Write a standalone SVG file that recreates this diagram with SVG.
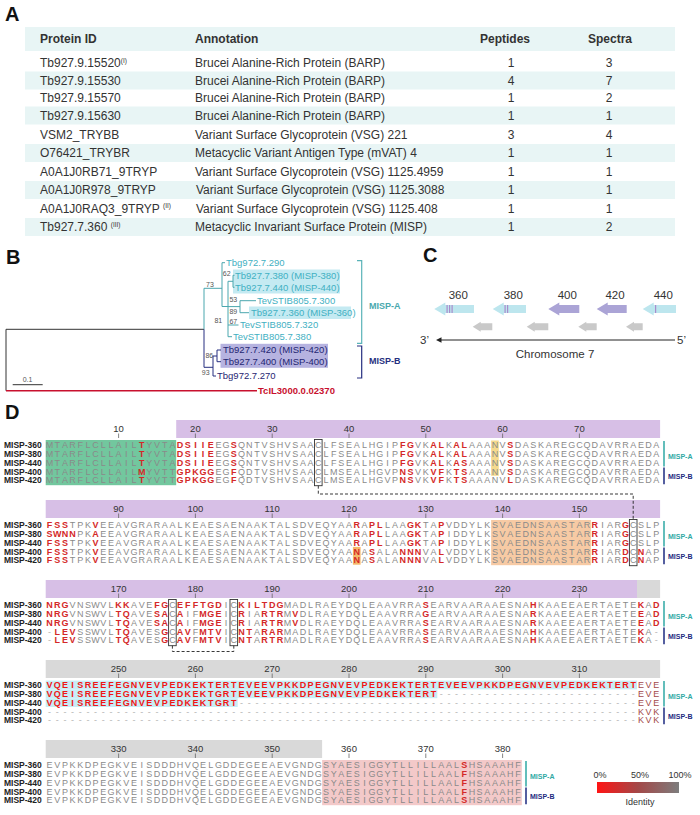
<svg xmlns="http://www.w3.org/2000/svg" width="700" height="815" viewBox="0 0 700 815">
<defs>
<linearGradient id="idg" x1="0" x2="1" y1="0" y2="0">
<stop offset="0" stop-color="#ff1414"/><stop offset="0.5" stop-color="#a34848"/><stop offset="1" stop-color="#7d7d7d"/>
</linearGradient>
</defs>
<style>
text{font-family:"Liberation Sans",Arial,sans-serif}
.pl{font-size:20px;font-weight:bold;fill:#111}
.th{font-size:12px;font-weight:bold;fill:#333}
.td{font-size:12px;fill:#333}
.c{text-anchor:middle}
.band{fill:#e8f5f5}
.lf{font-size:9.5px}
.ta{fill:#3fb0c2}
.nb{fill:#1f2672}
.bs{font-size:7px;fill:#555;text-anchor:middle}
.ea{stroke:#4aa7ae;stroke-width:1;fill:none}
.eb{stroke:#262f80;stroke-width:1;fill:none}
.ek{stroke:#333;stroke-width:1;fill:none}
.s{font-size:9px;fill:#8a8a8a;text-anchor:middle}
.r{fill:#d42828;font-weight:bold}
.R{fill:#f01616;font-weight:bold}
.d{fill:#a34a4a}
.q{fill:#b4b4b4}
.nm{font-size:8.5px;font-weight:bold;fill:#222}
.ru{font-size:9.5px;fill:#333;text-anchor:middle}
.tk{stroke:#666;stroke-width:0.8;fill:none}
.pu{fill:#d7bfe6}
.gy{fill:#d9d9d9}
.bx{fill:none;stroke:#333;stroke-width:0.9}
.ds{fill:none;stroke:#222;stroke-width:0.9;stroke-dasharray:3 2}
.la{stroke:#2fa9a4;stroke-width:1.5}
.lb{stroke:#1d2a80;stroke-width:1.5}
.ma{font-size:7px;font-weight:bold;fill:#2fa9a4}
.mb{font-size:7px;font-weight:bold;fill:#1d2a80}
.gb{fill:#bde6ee}
.gl{fill:#aba4d6}
.gg{fill:#c9c9c9}
.st{fill:#a88ccc}
.cx{font-size:11.5px;fill:#333}
.sp{font-size:6.5px}
</style>

<g id="panelA">
<text class="pl" x="5" y="21">A</text>
<rect class="band" x="25" y="27" width="650" height="24"/>
<rect class="band" x="25" y="71.5" width="650" height="18"/>
<rect class="band" x="25" y="106.5" width="650" height="18"/>
<rect class="band" x="25" y="144" width="650" height="18"/>
<rect class="band" x="25" y="181" width="650" height="18"/>
<rect class="band" x="25" y="218" width="650" height="18"/>
<text class="th" x="40" y="43">Protein ID</text>
<text class="th" x="195" y="43">Annotation</text>
<text class="th c" x="505" y="43">Peptides</text>
<text class="th c" x="610" y="43">Spectra</text>
<g id="row1"><text class="td" x="40" y="67">Tb927.9.15520<tspan class="sp" dy="-4.5">(I)</tspan></text><text class="td" x="195" y="67">Brucei Alanine-Rich Protein (BARP)</text><text class="td c" x="511" y="67">1</text><text class="td c" x="609" y="67">3</text></g>
<g id="row2"><text class="td" x="40" y="84.5">Tb927.9.15530</text><text class="td" x="195" y="84.5">Brucei Alanine-Rich Protein (BARP)</text><text class="td c" x="511" y="84.5">4</text><text class="td c" x="609" y="84.5">7</text></g>
<g id="row3"><text class="td" x="40" y="102">Tb927.9.15570</text><text class="td" x="195" y="102">Brucei Alanine-Rich Protein (BARP)</text><text class="td c" x="511" y="102">1</text><text class="td c" x="609" y="102">2</text></g>
<g id="row4"><text class="td" x="40" y="119.5">Tb927.9.15630</text><text class="td" x="195" y="119.5">Brucei Alanine-Rich Protein (BARP)</text><text class="td c" x="511" y="119.5">1</text><text class="td c" x="609" y="119.5">1</text></g>
<g id="row5"><text class="td" x="40" y="138.5">VSM2_TRYBB</text><text class="td" x="195" y="138.5">Variant Surface Glycoprotein (VSG) 221</text><text class="td c" x="511" y="138.5">3</text><text class="td c" x="609" y="138.5">4</text></g>
<g id="row6"><text class="td" x="40" y="157">O76421_TRYBR</text><text class="td" x="195" y="157">Metacyclic Variant Antigen Type (mVAT) 4</text><text class="td c" x="511" y="157">1</text><text class="td c" x="609" y="157">1</text></g>
<g id="row7"><text class="td" x="40" y="175.5">A0A1J0RB71_9TRYP</text><text class="td" x="195" y="175.5">Variant Surface Glycoprotein (VSG) 1125.4959</text><text class="td c" x="511" y="175.5">1</text><text class="td c" x="609" y="175.5">1</text></g>
<g id="row8"><text class="td" x="40" y="194">A0A1J0R978_9TRYP</text><text class="td" x="196" y="194">Variant Surface Glycoprotein (VSG) 1125.3088</text><text class="td c" x="511" y="194">1</text><text class="td c" x="609" y="194">1</text></g>
<g id="row9"><text class="td" x="40" y="212.5">A0A1J0RAQ3_9TRYP <tspan class="sp" dy="-4.5">(II)</tspan></text><text class="td" x="196" y="212.5">Variant Surface Glycoprotein (VSG) 1125.408</text><text class="td c" x="511" y="212.5">1</text><text class="td c" x="609" y="212.5">1</text></g>
<g id="row10"><text class="td" x="40" y="231">Tb927.7.360 <tspan class="sp" dy="-4.5">(III)</tspan></text><text class="td" x="195" y="231">Metacyclic Invariant Surface Protein (MISP)</text><text class="td c" x="511" y="231">1</text><text class="td c" x="609" y="231">2</text></g>
</g>

<g id="panelB">
<text class="pl" x="6" y="264">B</text>
<rect x="233" y="269.5" width="107" height="24" fill="#c4eaf2"/>
<rect x="249" y="306.5" width="102" height="12.5" fill="#c4eaf2"/>
<rect x="220.5" y="343.8" width="107.5" height="24" fill="#b6b3e0"/>
<g id="connectors">
<path class="ek" d="M6,329.3 V390.7 M6,329.3 H204"/>
<path d="M6,390.7 H257" stroke="#c8102e" stroke-width="1.6" fill="none"/>
<path class="ea" d="M204,329.3 V288.3 H222 M222,262.7 V306.5 M222,262.7 H225 M222,306.5 H228 M228,281.3 V336.7 M228,281.3 H233 M233,275.3 V287.3 M233,275.3 H234.5 M233,287.3 H234.5 M228,306.6 H240 M240,300.7 V312.7 M240,300.7 H256 M240,312.7 H249 M228,325 H238.5 M228,336.7 H232"/>
<path class="eb" d="M204,329.3 V367.3 H213 M213,356 V376 M213,356 H217 M217,350 V361.7 M217,350 H221 M217,361.7 H221 M213,376 H216"/>
<path class="ek" d="M12.7,384.7 H42.7"/>
</g>
<text class="bs" x="27.5" y="382">0.1</text>
<text class="bs" x="210" y="286.5">73</text>
<text class="bs" x="226.7" y="275.8">62</text>
<text class="bs" x="233.3" y="301.8">53</text>
<text class="bs" x="233.3" y="314.2">89</text>
<text class="bs" x="218.3" y="322.5">81</text>
<text class="bs" x="233.3" y="324.2">67</text>
<text class="bs" x="209.3" y="357.5">86</text>
<text class="bs" x="205.7" y="375.2">93</text>
<g id="leaf-tbg290"><text class="lf ta" x="226" y="266.1">Tbg972.7.290</text></g>
<g id="leaf-380"><text class="lf ta" x="235" y="278.7">Tb927.7.380 (MISP-380)</text></g>
<g id="leaf-440"><text class="lf ta" x="235" y="290.7">Tb927.7.440 (MISP-440)</text></g>
<g id="leaf-tev300"><text class="lf ta" x="257" y="304.1">TevSTIB805.7.300</text></g>
<g id="leaf-360"><text class="lf ta" x="251" y="316.1">Tb927.7.360 (MISP-360)</text></g>
<g id="leaf-tev320"><text class="lf ta" x="240" y="328.4">TevSTIB805.7.320</text></g>
<g id="leaf-tev380"><text class="lf ta" x="233" y="340.1">TevSTIB805.7.380</text></g>
<g id="leaf-420"><text class="lf nb" x="223" y="353.4">Tb927.7.420 (MISP-420)</text></g>
<g id="leaf-400"><text class="lf nb" x="223" y="365.1">Tb927.7.400 (MISP-400)</text></g>
<g id="leaf-tbg270"><text class="lf nb" x="217" y="379.4">Tbg972.7.270</text></g>
<g id="leaf-tcil"><text x="258" y="394" font-size="9.5" font-weight="bold" fill="#c8102e">TcIL3000.0.02370</text></g>
<path d="M357,260.7 H361.7 V343.3 H357" stroke="#5ab3b8" stroke-width="1.2" fill="none"/>
<path d="M357,346 H361.7 V378 H357" stroke="#262f80" stroke-width="1.2" fill="none"/>
<text x="369" y="309" font-size="9" font-weight="bold" fill="#4aa8ae">MISP-A</text>
<text x="369" y="364" font-size="9" font-weight="bold" fill="#262f80">MISP-B</text>
</g>

<g id="panelC">
<text class="pl" x="423" y="262">C</text>
<text class="cx c" x="458.3" y="299">360</text>
<text class="cx c" x="513.3" y="299">380</text>
<text class="cx c" x="567.3" y="299">400</text>
<text class="cx c" x="615" y="299">420</text>
<text class="cx c" x="663.3" y="299">440</text>
<g id="gene360"><path class="gb" d="M434.3,309 L445.3,302.5 L445.3,305 L474,305 L474,313 L445.3,313 L445.3,315.5 Z"/><rect class="st" x="446.5" y="305" width="1.2" height="8"/><rect class="st" x="449" y="305" width="1.2" height="8"/><rect class="st" x="451.5" y="305" width="1.2" height="8"/></g>
<g id="gene380"><path class="gb" d="M492.7,309 L503.7,302.5 L503.7,305 L526,305 L526,313 L503.7,313 L503.7,315.5 Z"/><rect class="st" x="504.5" y="305" width="1.2" height="8"/><rect class="st" x="507" y="305" width="1.2" height="8"/></g>
<g id="gene400"><path class="gl" d="M548.3,309 L559.3,302.5 L559.3,305 L579.3,305 L579.3,313 L559.3,313 L559.3,315.5 Z"/></g>
<g id="gene420"><path class="gl" d="M596.7,309 L607.7,302.5 L607.7,305 L626.7,305 L626.7,313 L607.7,313 L607.7,315.5 Z"/></g>
<g id="gene440"><path class="gb" d="M642.7,309 L653.7,302.5 L653.7,305 L676,305 L676,313 L653.7,313 L653.7,315.5 Z"/><rect class="st" x="655" y="305" width="1.2" height="8"/></g>
<g id="grey1"><path class="gg" d="M472.7,326.7 L480.7,321.7 L480.7,323.2 L492.3,323.2 L492.3,330.2 L480.7,330.2 L480.7,331.7 Z"/></g>
<g id="grey2"><path class="gg" d="M526.7,326.7 L534.7,321.7 L534.7,323.2 L548.3,323.2 L548.3,330.2 L534.7,330.2 L534.7,331.7 Z"/></g>
<g id="grey3"><path class="gg" d="M578.3,326.7 L586.3,321.7 L586.3,323.2 L596.7,323.2 L596.7,330.2 L586.3,330.2 L586.3,331.7 Z"/></g>
<g id="grey4"><path class="gg" d="M626,326.7 L634,321.7 L634,323.2 L642.7,323.2 L642.7,330.2 L634,330.2 L634,331.7 Z"/></g>
<path d="M675,340 H439" stroke="#222" stroke-width="1" fill="none"/>
<path d="M436,340 L441.5,337.3 L441.5,342.7 Z" fill="#222"/>
<text class="cx" x="420" y="344">3’</text>
<text class="cx" x="677" y="344">5’</text>
<text class="cx c" x="555" y="357.5">Chromosome 7</text>
</g>

<g id="panelD">
<text class="pl" x="5" y="419">D</text>
<rect class="pu" x="176.2" y="420" width="483.9" height="18"/>
<rect class="pu" x="45.7" y="500" width="614.4" height="18"/>
<rect class="pu" x="45.7" y="580" width="591.3" height="18"/>
<rect class="gy" x="637" y="580" width="23.1" height="18"/>
<rect class="gy" x="45.7" y="660" width="614.4" height="18"/>
<rect class="gy" x="45.7" y="740" width="276.4" height="18"/>
<rect x="45.7" y="440" width="130.5" height="45.2" fill="#72c79e"/>
<rect x="491.1" y="440.5" width="7.7" height="35.3" fill="#f5da8e"/>
<rect x="491.1" y="520" width="99.8" height="45.2" fill="#f7caa4"/>
<rect x="352.9" y="546.9" width="7.7" height="17.8" fill="#f5b86a"/>
<rect x="45.7" y="680.6" width="591.3" height="8.8" fill="#c8edf5"/>
<rect x="45.7" y="689.4" width="391.6" height="8.8" fill="#c8edf5"/>
<rect x="45.7" y="698.2" width="192" height="8.8" fill="#c8edf5"/>
<rect x="322.1" y="760" width="199.7" height="45.2" fill="#f3c9c9"/>
<g id="ruler1"><text class="ru" x="118.6" y="431.5">10</text><text class="ru" x="195.4" y="431.5">20</text><text class="ru" x="272.2" y="431.5">30</text><text class="ru" x="349" y="431.5">40</text><text class="ru" x="425.8" y="431.5">50</text><text class="ru" x="502.6" y="431.5">60</text><text class="ru" x="579.4" y="431.5">70</text>
<path class="tk" d="M118.6,433.5V438M195.4,433.5V438M272.2,433.5V438M349,433.5V438M425.8,433.5V438M502.6,433.5V438M579.4,433.5V438"/></g>
<g id="ruler2"><text class="ru" x="118.6" y="511.5">90</text><text class="ru" x="195.4" y="511.5">100</text><text class="ru" x="272.2" y="511.5">110</text><text class="ru" x="349" y="511.5">120</text><text class="ru" x="425.8" y="511.5">130</text><text class="ru" x="502.6" y="511.5">140</text><text class="ru" x="579.4" y="511.5">150</text>
<path class="tk" d="M118.6,513.5V518M195.4,513.5V518M272.2,513.5V518M349,513.5V518M425.8,513.5V518M502.6,513.5V518M579.4,513.5V518"/></g>
<g id="ruler3"><text class="ru" x="118.6" y="591.5">170</text><text class="ru" x="195.4" y="591.5">180</text><text class="ru" x="272.2" y="591.5">190</text><text class="ru" x="349" y="591.5">200</text><text class="ru" x="425.8" y="591.5">210</text><text class="ru" x="502.6" y="591.5">220</text><text class="ru" x="579.4" y="591.5">230</text>
<path class="tk" d="M118.6,593.5V598M195.4,593.5V598M272.2,593.5V598M349,593.5V598M425.8,593.5V598M502.6,593.5V598M579.4,593.5V598"/></g>
<g id="ruler4"><text class="ru" x="118.6" y="671.5">250</text><text class="ru" x="195.4" y="671.5">260</text><text class="ru" x="272.2" y="671.5">270</text><text class="ru" x="349" y="671.5">280</text><text class="ru" x="425.8" y="671.5">290</text><text class="ru" x="502.6" y="671.5">300</text><text class="ru" x="579.4" y="671.5">310</text>
<path class="tk" d="M118.6,673.5V678M195.4,673.5V678M272.2,673.5V678M349,673.5V678M425.8,673.5V678M502.6,673.5V678M579.4,673.5V678"/></g>
<g id="ruler5"><text class="ru" x="118.6" y="751.5">330</text><text class="ru" x="195.4" y="751.5">340</text><text class="ru" x="272.2" y="751.5">350</text><text class="ru" x="349" y="751.5">360</text><text class="ru" x="425.8" y="751.5">370</text><text class="ru" x="502.6" y="751.5">380</text>
<path class="tk" d="M118.6,753.5V758M195.4,753.5V758M272.2,753.5V758M349,753.5V758M425.8,753.5V758M502.6,753.5V758"/></g>

<g id="names">
<text class="nm" x="4" y="448.2">MISP-360</text><text class="nm" x="4" y="457">MISP-380</text><text class="nm" x="4" y="465.8">MISP-440</text><text class="nm" x="4" y="474.6">MISP-400</text><text class="nm" x="4" y="483.4">MISP-420</text>
<text class="nm" x="4" y="528.2">MISP-360</text><text class="nm" x="4" y="537">MISP-380</text><text class="nm" x="4" y="545.8">MISP-440</text><text class="nm" x="4" y="554.6">MISP-400</text><text class="nm" x="4" y="563.4">MISP-420</text>
<text class="nm" x="4" y="608.2">MISP-360</text><text class="nm" x="4" y="617">MISP-380</text><text class="nm" x="4" y="625.8">MISP-440</text><text class="nm" x="4" y="634.6">MISP-400</text><text class="nm" x="4" y="643.4">MISP-420</text>
<text class="nm" x="4" y="688.2">MISP-360</text><text class="nm" x="4" y="697">MISP-380</text><text class="nm" x="4" y="705.8">MISP-440</text><text class="nm" x="4" y="714.6">MISP-400</text><text class="nm" x="4" y="723.4">MISP-420</text>
<text class="nm" x="4" y="768.2">MISP-360</text><text class="nm" x="4" y="777">MISP-380</text><text class="nm" x="4" y="785.8">MISP-440</text><text class="nm" x="4" y="794.6">MISP-400</text><text class="nm" x="4" y="803.4">MISP-420</text>
</g>

<g id="block1">
<text class="s" y="448.2" x="49.5 57.2 64.9 72.5 80.2 87.9 95.6 103.3 110.9 118.6 126.3 134 141.7 149.3 157 164.7 172.4 180.1 187.7 195.4 203.1 210.8 218.5 226.1 233.8 241.5 249.2 256.9 264.5 272.2 279.9 287.6 295.3 302.9 310.6 318.3 326 333.7 341.3 349 356.7 364.4 372.1 379.7 387.4 395.1 402.8 410.5 418.1 425.8 433.5 441.2 448.9 456.5 464.2 471.9 479.6 487.3 494.9 502.6 510.3 518 525.7 533.3 541 548.7 556.4 564.1 571.7 579.4 587.1 594.8 602.5 610.1 617.8 625.5 633.2 640.9 648.5 656.2">MTARFLCLLAIL<tspan class="r">T</tspan>YVTA<tspan class="r">DSIIE</tspan>EG<tspan class="r">S</tspan>QNTVSHVSAACLFSEALHGIP<tspan class="r">FG</tspan>VK<tspan class="r">AL</tspan>K<tspan class="r">AL</tspan>AAANV<tspan class="r">S</tspan>DASKAREGCQDAVRRAEDA</text>
<text class="s" y="457" x="49.5 57.2 64.9 72.5 80.2 87.9 95.6 103.3 110.9 118.6 126.3 134 141.7 149.3 157 164.7 172.4 180.1 187.7 195.4 203.1 210.8 218.5 226.1 233.8 241.5 249.2 256.9 264.5 272.2 279.9 287.6 295.3 302.9 310.6 318.3 326 333.7 341.3 349 356.7 364.4 372.1 379.7 387.4 395.1 402.8 410.5 418.1 425.8 433.5 441.2 448.9 456.5 464.2 471.9 479.6 487.3 494.9 502.6 510.3 518 525.7 533.3 541 548.7 556.4 564.1 571.7 579.4 587.1 594.8 602.5 610.1 617.8 625.5 633.2 640.9 648.5 656.2">MTARFLCLLAIL<tspan class="r">T</tspan>YVTA<tspan class="r">DSIIE</tspan>EG<tspan class="r">S</tspan>QNTVSHVSAACLFSEALHGIP<tspan class="r">FG</tspan>VK<tspan class="r">AL</tspan>K<tspan class="r">AL</tspan>AAANV<tspan class="r">S</tspan>DASKAREGCQDAVRRAEDA</text>
<text class="s" y="465.8" x="49.5 57.2 64.9 72.5 80.2 87.9 95.6 103.3 110.9 118.6 126.3 134 141.7 149.3 157 164.7 172.4 180.1 187.7 195.4 203.1 210.8 218.5 226.1 233.8 241.5 249.2 256.9 264.5 272.2 279.9 287.6 295.3 302.9 310.6 318.3 326 333.7 341.3 349 356.7 364.4 372.1 379.7 387.4 395.1 402.8 410.5 418.1 425.8 433.5 441.2 448.9 456.5 464.2 471.9 479.6 487.3 494.9 502.6 510.3 518 525.7 533.3 541 548.7 556.4 564.1 571.7 579.4 587.1 594.8 602.5 610.1 617.8 625.5 633.2 640.9 648.5 656.2">MTARFLCLLAIL<tspan class="r">T</tspan>YVTA<tspan class="r">DSIIE</tspan>EG<tspan class="r">S</tspan>QNTVSHVSAACLFSEALHGIP<tspan class="r">FG</tspan>VK<tspan class="r">AL</tspan>K<tspan class="r">AS</tspan>AAANV<tspan class="r">S</tspan>DASKAREGCQDAVRRAEDA</text>
<text class="s" y="474.6" x="49.5 57.2 64.9 72.5 80.2 87.9 95.6 103.3 110.9 118.6 126.3 134 141.7 149.3 157 164.7 172.4 180.1 187.7 195.4 203.1 210.8 218.5 226.1 233.8 241.5 249.2 256.9 264.5 272.2 279.9 287.6 295.3 302.9 310.6 318.3 326 333.7 341.3 349 356.7 364.4 372.1 379.7 387.4 395.1 402.8 410.5 418.1 425.8 433.5 441.2 448.9 456.5 464.2 471.9 479.6 487.3 494.9 502.6 510.3 518 525.7 533.3 541 548.7 556.4 564.1 571.7 579.4 587.1 594.8 602.5 610.1 617.8 625.5 633.2 640.9 648.5 656.2">MTARFLCLLAIL<tspan class="r">M</tspan>YVTT<tspan class="r">GPKGG</tspan>EG<tspan class="r">F</tspan>QDTVSHVSAACLMSEALHGVP<tspan class="r">NS</tspan>VK<tspan class="r">VF</tspan>K<tspan class="r">TS</tspan>AAANV<tspan class="r">S</tspan>DASKAREGCQDAVRRAEDA</text>
<text class="s" y="483.4" x="49.5 57.2 64.9 72.5 80.2 87.9 95.6 103.3 110.9 118.6 126.3 134 141.7 149.3 157 164.7 172.4 180.1 187.7 195.4 203.1 210.8 218.5 226.1 233.8 241.5 249.2 256.9 264.5 272.2 279.9 287.6 295.3 302.9 310.6 318.3 326 333.7 341.3 349 356.7 364.4 372.1 379.7 387.4 395.1 402.8 410.5 418.1 425.8 433.5 441.2 448.9 456.5 464.2 471.9 479.6 487.3 494.9 502.6 510.3 518 525.7 533.3 541 548.7 556.4 564.1 571.7 579.4 587.1 594.8 602.5 610.1 617.8 625.5 633.2 640.9 648.5 656.2">MTARFLCLLAIL<tspan class="r">T</tspan>YVTT<tspan class="r">GPKGG</tspan>EG<tspan class="r">F</tspan>QDTVSHVSAACLMSEALHGVP<tspan class="r">NS</tspan>VK<tspan class="r">VF</tspan>K<tspan class="r">TS</tspan>AAANV<tspan class="r">L</tspan>DASKAREGCQDAVRRAEDA</text>
</g>

<g id="block2">
<text class="s" y="528.2" x="49.5 57.2 64.9 72.5 80.2 87.9 95.6 103.3 110.9 118.6 126.3 134 141.7 149.3 157 164.7 172.4 180.1 187.7 195.4 203.1 210.8 218.5 226.1 233.8 241.5 249.2 256.9 264.5 272.2 279.9 287.6 295.3 302.9 310.6 318.3 326 333.7 341.3 349 356.7 364.4 372.1 379.7 387.4 395.1 402.8 410.5 418.1 425.8 433.5 441.2 448.9 456.5 464.2 471.9 479.6 487.3 494.9 502.6 510.3 518 525.7 533.3 541 548.7 556.4 564.1 571.7 579.4 587.1 594.8 602.5 610.1 617.8 625.5 633.2 640.9 648.5 656.2"><tspan class="r">FSS</tspan>TPK<tspan class="r">V</tspan>EEAVGRARAALKEAESAENAAKTALSDVEQYAA<tspan class="r">R</tspan>A<tspan class="r">PL</tspan>LAA<tspan class="r">GK</tspan>TA<tspan class="r">P</tspan>VDDYLKSVAEDNSAASTAR<tspan class="r">R</tspan>IAR<tspan class="r">G</tspan>CSLP</text>
<text class="s" y="537" x="49.5 57.2 64.9 72.5 80.2 87.9 95.6 103.3 110.9 118.6 126.3 134 141.7 149.3 157 164.7 172.4 180.1 187.7 195.4 203.1 210.8 218.5 226.1 233.8 241.5 249.2 256.9 264.5 272.2 279.9 287.6 295.3 302.9 310.6 318.3 326 333.7 341.3 349 356.7 364.4 372.1 379.7 387.4 395.1 402.8 410.5 418.1 425.8 433.5 441.2 448.9 456.5 464.2 471.9 479.6 487.3 494.9 502.6 510.3 518 525.7 533.3 541 548.7 556.4 564.1 571.7 579.4 587.1 594.8 602.5 610.1 617.8 625.5 633.2 640.9 648.5 656.2"><tspan class="r">SWNN</tspan>PK<tspan class="r">A</tspan>EEAVGRARAALKEAESAENAAKTALSDVEQYAA<tspan class="r">R</tspan>A<tspan class="r">PL</tspan>LAA<tspan class="r">GK</tspan>TA<tspan class="r">P</tspan>IDDYLKSVAEDNSAASTAR<tspan class="r">R</tspan>IAR<tspan class="r">G</tspan>CSLP</text>
<text class="s" y="545.8" x="49.5 57.2 64.9 72.5 80.2 87.9 95.6 103.3 110.9 118.6 126.3 134 141.7 149.3 157 164.7 172.4 180.1 187.7 195.4 203.1 210.8 218.5 226.1 233.8 241.5 249.2 256.9 264.5 272.2 279.9 287.6 295.3 302.9 310.6 318.3 326 333.7 341.3 349 356.7 364.4 372.1 379.7 387.4 395.1 402.8 410.5 418.1 425.8 433.5 441.2 448.9 456.5 464.2 471.9 479.6 487.3 494.9 502.6 510.3 518 525.7 533.3 541 548.7 556.4 564.1 571.7 579.4 587.1 594.8 602.5 610.1 617.8 625.5 633.2 640.9 648.5 656.2"><tspan class="r">FSS</tspan>TPK<tspan class="r">V</tspan>EEAVGRARAALKEAESAENAAKTALSDVEQYAA<tspan class="r">R</tspan>A<tspan class="r">PL</tspan>LAA<tspan class="r">GK</tspan>TA<tspan class="r">P</tspan>IDDYLKSVAEDNSAASTAR<tspan class="r">R</tspan>IAR<tspan class="r">G</tspan>CSLP</text>
<text class="s" y="554.6" x="49.5 57.2 64.9 72.5 80.2 87.9 95.6 103.3 110.9 118.6 126.3 134 141.7 149.3 157 164.7 172.4 180.1 187.7 195.4 203.1 210.8 218.5 226.1 233.8 241.5 249.2 256.9 264.5 272.2 279.9 287.6 295.3 302.9 310.6 318.3 326 333.7 341.3 349 356.7 364.4 372.1 379.7 387.4 395.1 402.8 410.5 418.1 425.8 433.5 441.2 448.9 456.5 464.2 471.9 479.6 487.3 494.9 502.6 510.3 518 525.7 533.3 541 548.7 556.4 564.1 571.7 579.4 587.1 594.8 602.5 610.1 617.8 625.5 633.2 640.9 648.5 656.2"><tspan class="r">FSS</tspan>TPK<tspan class="r">V</tspan>EEAVGRARAALKEAESAENAAKTALSDVEQYAA<tspan class="r">N</tspan>A<tspan class="r">S</tspan>ALA<tspan class="r">NNN</tspan>VA<tspan class="r">L</tspan>VDDYLKSVAEDNSAASTAR<tspan class="r">R</tspan>IAR<tspan class="r">D</tspan>C<tspan class="r">N</tspan>AP</text>
<text class="s" y="563.4" x="49.5 57.2 64.9 72.5 80.2 87.9 95.6 103.3 110.9 118.6 126.3 134 141.7 149.3 157 164.7 172.4 180.1 187.7 195.4 203.1 210.8 218.5 226.1 233.8 241.5 249.2 256.9 264.5 272.2 279.9 287.6 295.3 302.9 310.6 318.3 326 333.7 341.3 349 356.7 364.4 372.1 379.7 387.4 395.1 402.8 410.5 418.1 425.8 433.5 441.2 448.9 456.5 464.2 471.9 479.6 487.3 494.9 502.6 510.3 518 525.7 533.3 541 548.7 556.4 564.1 571.7 579.4 587.1 594.8 602.5 610.1 617.8 625.5 633.2 640.9 648.5 656.2"><tspan class="r">FSS</tspan>TPK<tspan class="r">V</tspan>EEAVGRARAALKEAESAENAAKTALSDVEQYAA<tspan class="r">N</tspan>A<tspan class="r">S</tspan>ALA<tspan class="r">NNN</tspan>VA<tspan class="r">L</tspan>VDDYLKSVAEDNSAASTAR<tspan class="r">R</tspan>IAR<tspan class="r">D</tspan>C<tspan class="r">N</tspan>AP</text>
</g>

<g id="block3">
<text class="s" y="608.2" x="49.5 57.2 64.9 72.5 80.2 87.9 95.6 103.3 110.9 118.6 126.3 134 141.7 149.3 157 164.7 172.4 180.1 187.7 195.4 203.1 210.8 218.5 226.1 233.8 241.5 249.2 256.9 264.5 272.2 279.9 287.6 295.3 302.9 310.6 318.3 326 333.7 341.3 349 356.7 364.4 372.1 379.7 387.4 395.1 402.8 410.5 418.1 425.8 433.5 441.2 448.9 456.5 464.2 471.9 479.6 487.3 494.9 502.6 510.3 518 525.7 533.3 541 548.7 556.4 564.1 571.7 579.4 587.1 594.8 602.5 610.1 617.8 625.5 633.2 640.9 648.5 656.2"><tspan class="r">NRG</tspan>VNSWVL<tspan class="r">KK</tspan>AVE<tspan class="r">FG</tspan>C<tspan class="r">EFFTGD</tspan>IC<tspan class="r">KILTDG</tspan>MADLRAEYDQLEAAVRRA<tspan class="r">S</tspan>EARVAARAAESNA<tspan class="r">H</tspan>KAAEEAERTAETE<tspan class="r">K</tspan>A<tspan class="r">D</tspan></text>
<text class="s" y="617" x="49.5 57.2 64.9 72.5 80.2 87.9 95.6 103.3 110.9 118.6 126.3 134 141.7 149.3 157 164.7 172.4 180.1 187.7 195.4 203.1 210.8 218.5 226.1 233.8 241.5 249.2 256.9 264.5 272.2 279.9 287.6 295.3 302.9 310.6 318.3 326 333.7 341.3 349 356.7 364.4 372.1 379.7 387.4 395.1 402.8 410.5 418.1 425.8 433.5 441.2 448.9 456.5 464.2 471.9 479.6 487.3 494.9 502.6 510.3 518 525.7 533.3 541 548.7 556.4 564.1 571.7 579.4 587.1 594.8 602.5 610.1 617.8 625.5 633.2 640.9 648.5 656.2"><tspan class="r">NRG</tspan>VNSWVL<tspan class="r">TQ</tspan>AVE<tspan class="r">SA</tspan>C<tspan class="r">A</tspan>IF<tspan class="r">MGE</tspan>IC<tspan class="r">R</tspan>IA<tspan class="r">RTR</tspan>M<tspan class="r">V</tspan>DLRAEYDQLEAAVRRA<tspan class="r">G</tspan>EARVAARAAESNA<tspan class="r">R</tspan>KAAEEAERTAETE<tspan class="r">E</tspan>A<tspan class="r">D</tspan></text>
<text class="s" y="625.8" x="49.5 57.2 64.9 72.5 80.2 87.9 95.6 103.3 110.9 118.6 126.3 134 141.7 149.3 157 164.7 172.4 180.1 187.7 195.4 203.1 210.8 218.5 226.1 233.8 241.5 249.2 256.9 264.5 272.2 279.9 287.6 295.3 302.9 310.6 318.3 326 333.7 341.3 349 356.7 364.4 372.1 379.7 387.4 395.1 402.8 410.5 418.1 425.8 433.5 441.2 448.9 456.5 464.2 471.9 479.6 487.3 494.9 502.6 510.3 518 525.7 533.3 541 548.7 556.4 564.1 571.7 579.4 587.1 594.8 602.5 610.1 617.8 625.5 633.2 640.9 648.5 656.2"><tspan class="r">NRG</tspan>VNSWVL<tspan class="r">TQ</tspan>AVE<tspan class="r">SA</tspan>C<tspan class="r">A</tspan>IF<tspan class="r">MGE</tspan>IC<tspan class="r">R</tspan>IA<tspan class="r">RTR</tspan>M<tspan class="r">V</tspan>DLRAEYDQLEAAVRRA<tspan class="r">S</tspan>EARVAARAAESNA<tspan class="r">R</tspan>KAAEEAERTAETE<tspan class="r">E</tspan>A<tspan class="r">D</tspan></text>
<text class="s" y="634.6" x="49.5 57.2 64.9 72.5 80.2 87.9 95.6 103.3 110.9 118.6 126.3 134 141.7 149.3 157 164.7 172.4 180.1 187.7 195.4 203.1 210.8 218.5 226.1 233.8 241.5 249.2 256.9 264.5 272.2 279.9 287.6 295.3 302.9 310.6 318.3 326 333.7 341.3 349 356.7 364.4 372.1 379.7 387.4 395.1 402.8 410.5 418.1 425.8 433.5 441.2 448.9 456.5 464.2 471.9 479.6 487.3 494.9 502.6 510.3 518 525.7 533.3 541 548.7 556.4 564.1 571.7 579.4 587.1 594.8 602.5 610.1 617.8 625.5 633.2 640.9 648.5 656.2"><tspan class="q">-</tspan><tspan class="r">LEV</tspan>SSWVL<tspan class="r">TQ</tspan>AVES<tspan class="r">G</tspan>C<tspan class="r">AV</tspan>F<tspan class="r">MTV</tspan>IC<tspan class="r">NT</tspan>A<tspan class="r">RAR</tspan>MADLRAEYDQLEAAVRRA<tspan class="r">S</tspan>EARVAARAAESNA<tspan class="r">H</tspan>KAAEEAERTAETE<tspan class="r">K</tspan>A<tspan class="q">-</tspan></text>
<text class="s" y="643.4" x="49.5 57.2 64.9 72.5 80.2 87.9 95.6 103.3 110.9 118.6 126.3 134 141.7 149.3 157 164.7 172.4 180.1 187.7 195.4 203.1 210.8 218.5 226.1 233.8 241.5 249.2 256.9 264.5 272.2 279.9 287.6 295.3 302.9 310.6 318.3 326 333.7 341.3 349 356.7 364.4 372.1 379.7 387.4 395.1 402.8 410.5 418.1 425.8 433.5 441.2 448.9 456.5 464.2 471.9 479.6 487.3 494.9 502.6 510.3 518 525.7 533.3 541 548.7 556.4 564.1 571.7 579.4 587.1 594.8 602.5 610.1 617.8 625.5 633.2 640.9 648.5 656.2"><tspan class="q">-</tspan><tspan class="r">LEV</tspan>SSWVL<tspan class="r">TQ</tspan>AVES<tspan class="r">G</tspan>C<tspan class="r">AV</tspan>F<tspan class="r">MTV</tspan>IC<tspan class="r">NT</tspan>A<tspan class="r">RTR</tspan>MADLRAEYDQLEAAVRRA<tspan class="r">S</tspan>EARVAARAAESNA<tspan class="r">H</tspan>KAAEEAERTAETE<tspan class="r">K</tspan>A<tspan class="q">-</tspan></text>
</g>

<g id="block4">
<text class="s" y="688.2" x="49.5 57.2 64.9 72.5 80.2 87.9 95.6 103.3 110.9 118.6 126.3 134 141.7 149.3 157 164.7 172.4 180.1 187.7 195.4 203.1 210.8 218.5 226.1 233.8 241.5 249.2 256.9 264.5 272.2 279.9 287.6 295.3 302.9 310.6 318.3 326 333.7 341.3 349 356.7 364.4 372.1 379.7 387.4 395.1 402.8 410.5 418.1 425.8 433.5 441.2 448.9 456.5 464.2 471.9 479.6 487.3 494.9 502.6 510.3 518 525.7 533.3 541 548.7 556.4 564.1 571.7 579.4 587.1 594.8 602.5 610.1 617.8 625.5 633.2 640.9 648.5 656.2"><tspan class="R">VQEISREEFEGNVEVPEDKEKTERTEVEEVPKKDPEGNVEVPEDKEKTERTEVEEVPKKDPEGNVEVPEDKEKTERT</tspan><tspan class="d">EVE</tspan></text>
<text class="s" y="697" x="49.5 57.2 64.9 72.5 80.2 87.9 95.6 103.3 110.9 118.6 126.3 134 141.7 149.3 157 164.7 172.4 180.1 187.7 195.4 203.1 210.8 218.5 226.1 233.8 241.5 249.2 256.9 264.5 272.2 279.9 287.6 295.3 302.9 310.6 318.3 326 333.7 341.3 349 356.7 364.4 372.1 379.7 387.4 395.1 402.8 410.5 418.1 425.8 433.5 441.2 448.9 456.5 464.2 471.9 479.6 487.3 494.9 502.6 510.3 518 525.7 533.3 541 548.7 556.4 564.1 571.7 579.4 587.1 594.8 602.5 610.1 617.8 625.5 633.2 640.9 648.5 656.2"><tspan class="R">VQEISREEFEGNVEVPEDKEKTGRTEVEEVPKKDPEGNVEVPEDKEKTERT</tspan><tspan class="q">--------------------------</tspan><tspan class="d">EVE</tspan></text>
<text class="s" y="705.8" x="49.5 57.2 64.9 72.5 80.2 87.9 95.6 103.3 110.9 118.6 126.3 134 141.7 149.3 157 164.7 172.4 180.1 187.7 195.4 203.1 210.8 218.5 226.1 233.8 241.5 249.2 256.9 264.5 272.2 279.9 287.6 295.3 302.9 310.6 318.3 326 333.7 341.3 349 356.7 364.4 372.1 379.7 387.4 395.1 402.8 410.5 418.1 425.8 433.5 441.2 448.9 456.5 464.2 471.9 479.6 487.3 494.9 502.6 510.3 518 525.7 533.3 541 548.7 556.4 564.1 571.7 579.4 587.1 594.8 602.5 610.1 617.8 625.5 633.2 640.9 648.5 656.2"><tspan class="R">VQEISREEFEGNVEVPEDKEKTGRT</tspan><tspan class="q">----------------------------------------------------</tspan><tspan class="d">EVE</tspan></text>
<text class="s" y="714.6" x="49.5 57.2 64.9 72.5 80.2 87.9 95.6 103.3 110.9 118.6 126.3 134 141.7 149.3 157 164.7 172.4 180.1 187.7 195.4 203.1 210.8 218.5 226.1 233.8 241.5 249.2 256.9 264.5 272.2 279.9 287.6 295.3 302.9 310.6 318.3 326 333.7 341.3 349 356.7 364.4 372.1 379.7 387.4 395.1 402.8 410.5 418.1 425.8 433.5 441.2 448.9 456.5 464.2 471.9 479.6 487.3 494.9 502.6 510.3 518 525.7 533.3 541 548.7 556.4 564.1 571.7 579.4 587.1 594.8 602.5 610.1 617.8 625.5 633.2 640.9 648.5 656.2"><tspan class="q">-----------------------------------------------------------------------------</tspan><tspan class="d">KVK</tspan></text>
<text class="s" y="723.4" x="49.5 57.2 64.9 72.5 80.2 87.9 95.6 103.3 110.9 118.6 126.3 134 141.7 149.3 157 164.7 172.4 180.1 187.7 195.4 203.1 210.8 218.5 226.1 233.8 241.5 249.2 256.9 264.5 272.2 279.9 287.6 295.3 302.9 310.6 318.3 326 333.7 341.3 349 356.7 364.4 372.1 379.7 387.4 395.1 402.8 410.5 418.1 425.8 433.5 441.2 448.9 456.5 464.2 471.9 479.6 487.3 494.9 502.6 510.3 518 525.7 533.3 541 548.7 556.4 564.1 571.7 579.4 587.1 594.8 602.5 610.1 617.8 625.5 633.2 640.9 648.5 656.2"><tspan class="q">-----------------------------------------------------------------------------</tspan><tspan class="d">KVK</tspan></text>
</g>

<g id="block5">
<text class="s" y="768.2" x="49.5 57.2 64.9 72.5 80.2 87.9 95.6 103.3 110.9 118.6 126.3 134 141.7 149.3 157 164.7 172.4 180.1 187.7 195.4 203.1 210.8 218.5 226.1 233.8 241.5 249.2 256.9 264.5 272.2 279.9 287.6 295.3 302.9 310.6 318.3 326 333.7 341.3 349 356.7 364.4 372.1 379.7 387.4 395.1 402.8 410.5 418.1 425.8 433.5 441.2 448.9 456.5 464.2 471.9 479.6 487.3 494.9 502.6 510.3 518">EVPKKDPEGKVEISDDDHVQELGDDEGEEAEVGNDGSYAESIGGYTLLILLAAL<tspan class="r">S</tspan>HSAAAHF</text>
<text class="s" y="777" x="49.5 57.2 64.9 72.5 80.2 87.9 95.6 103.3 110.9 118.6 126.3 134 141.7 149.3 157 164.7 172.4 180.1 187.7 195.4 203.1 210.8 218.5 226.1 233.8 241.5 249.2 256.9 264.5 272.2 279.9 287.6 295.3 302.9 310.6 318.3 326 333.7 341.3 349 356.7 364.4 372.1 379.7 387.4 395.1 402.8 410.5 418.1 425.8 433.5 441.2 448.9 456.5 464.2 471.9 479.6 487.3 494.9 502.6 510.3 518">EVPKKDPEGKVEISDDDHVQELGDDEGEEAEVGNDGSYAESIGGYTLLILLAAL<tspan class="r">F</tspan>HSAAAHF</text>
<text class="s" y="785.8" x="49.5 57.2 64.9 72.5 80.2 87.9 95.6 103.3 110.9 118.6 126.3 134 141.7 149.3 157 164.7 172.4 180.1 187.7 195.4 203.1 210.8 218.5 226.1 233.8 241.5 249.2 256.9 264.5 272.2 279.9 287.6 295.3 302.9 310.6 318.3 326 333.7 341.3 349 356.7 364.4 372.1 379.7 387.4 395.1 402.8 410.5 418.1 425.8 433.5 441.2 448.9 456.5 464.2 471.9 479.6 487.3 494.9 502.6 510.3 518">EVPKKDPEGKVEISDDDHVQELGDDEGEEAEVGNDGSYAESIGGYTLLILLAAL<tspan class="r">F</tspan>HSAAAHF</text>
<text class="s" y="794.6" x="49.5 57.2 64.9 72.5 80.2 87.9 95.6 103.3 110.9 118.6 126.3 134 141.7 149.3 157 164.7 172.4 180.1 187.7 195.4 203.1 210.8 218.5 226.1 233.8 241.5 249.2 256.9 264.5 272.2 279.9 287.6 295.3 302.9 310.6 318.3 326 333.7 341.3 349 356.7 364.4 372.1 379.7 387.4 395.1 402.8 410.5 418.1 425.8 433.5 441.2 448.9 456.5 464.2 471.9 479.6 487.3 494.9 502.6 510.3 518">EVPKKDPEGKVEISDDDHVQELGDDEGEEAEVGNDGSYAESIGGYTLLILLAAL<tspan class="r">F</tspan>HSAAAHF</text>
<text class="s" y="803.4" x="49.5 57.2 64.9 72.5 80.2 87.9 95.6 103.3 110.9 118.6 126.3 134 141.7 149.3 157 164.7 172.4 180.1 187.7 195.4 203.1 210.8 218.5 226.1 233.8 241.5 249.2 256.9 264.5 272.2 279.9 287.6 295.3 302.9 310.6 318.3 326 333.7 341.3 349 356.7 364.4 372.1 379.7 387.4 395.1 402.8 410.5 418.1 425.8 433.5 441.2 448.9 456.5 464.2 471.9 479.6 487.3 494.9 502.6 510.3 518">EVPKKDPEGKVEISDDDHVQELGDDEGEEAEVGNDGSYAESIGGYTLLILLAAL<tspan class="r">S</tspan>HSAAAHF</text>
</g>

<g id="bonds">
<rect class="bx" x="314.5" y="439.5" width="7.6" height="46.2"/>
<rect class="bx" x="629.4" y="519.5" width="7.6" height="46.2"/>
<rect class="bx" x="168.6" y="599.5" width="7.6" height="46.2"/>
<rect class="bx" x="230" y="599.5" width="7.6" height="46.2"/>
<path class="ds" d="M318.3,485.7 V494 H633.2 V519.5"/>
<path class="ds" d="M172.4,645.7 V651.5 H233.8 V645.7"/>
</g>

<g id="brackets">
<line class="la" x1="664" y1="441" x2="664" y2="466.6"/><line class="lb" x1="664" y1="467.4" x2="664" y2="484.2"/>
<text class="ma" x="668" y="459">MISP-A</text><text class="mb" x="668" y="478.5">MISP-B</text>
<line class="la" x1="664" y1="521" x2="664" y2="546.6"/><line class="lb" x1="664" y1="547.4" x2="664" y2="564.2"/>
<text class="ma" x="668" y="539">MISP-A</text><text class="mb" x="668" y="558.5">MISP-B</text>
<line class="la" x1="664" y1="601" x2="664" y2="626.6"/><line class="lb" x1="664" y1="627.4" x2="664" y2="644.2"/>
<text class="ma" x="668" y="619">MISP-A</text><text class="mb" x="668" y="638.5">MISP-B</text>
<line class="la" x1="664" y1="681" x2="664" y2="706.6"/><line class="lb" x1="664" y1="707.4" x2="664" y2="724.2"/>
<text class="ma" x="668" y="699">MISP-A</text><text class="mb" x="668" y="718.5">MISP-B</text>
<line class="la" x1="526" y1="761" x2="526" y2="786.6"/><line class="lb" x1="526" y1="787.4" x2="526" y2="804.2"/>
<text class="ma" x="530" y="779">MISP-A</text><text class="mb" x="530" y="798.5">MISP-B</text>
</g>

<g id="legend">
<text x="600" y="778" font-size="9" fill="#333" text-anchor="middle">0%</text>
<text x="640" y="778" font-size="9" fill="#333" text-anchor="middle">50%</text>
<text x="680" y="778" font-size="9" fill="#333" text-anchor="middle">100%</text>
<rect x="597" y="782" width="82" height="11" fill="url(#idg)"/>
<text x="640" y="805" font-size="9" fill="#333" text-anchor="middle">Identity</text>
</g>
</g>
</svg>
